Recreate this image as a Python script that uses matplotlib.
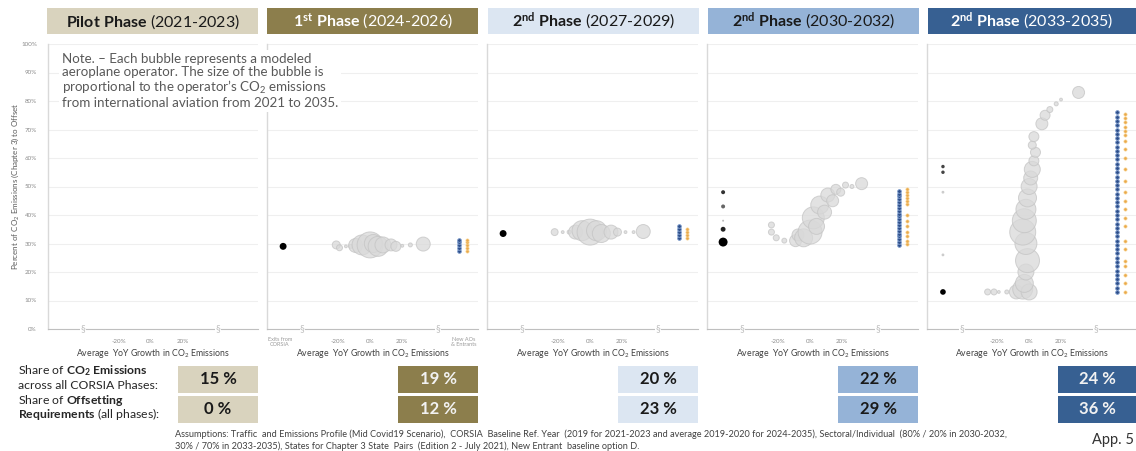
import matplotlib.pyplot as plt
from matplotlib.patches import Rectangle
import numpy as np

plt.rcParams['font.family'] = ['Lato', 'DejaVu Sans']
plt.rcParams['mathtext.fontset'] = 'custom'
plt.rcParams['mathtext.rm'] = 'Lato'
plt.rcParams['mathtext.bf'] = 'Lato:bold'
plt.rcParams['mathtext.it'] = 'Lato:italic'

# ---- data -------------------------------------------------------------
header_labels = [r'$\mathbf{Pilot\ Phase}$ (2021-2023)',
                 r'$\mathbf{1^{st}\ Phase}$ (2024-2026)',
                 r'$\mathbf{2^{nd}\ Phase}$ (2027-2029)',
                 r'$\mathbf{2^{nd}\ Phase}$ (2030-2032)',
                 r'$\mathbf{2^{nd}\ Phase}$ (2033-2035)']
header_colors = ['#d9d3be', '#8c7e4c', '#dce6f2', '#95b3d7', '#376092']
header_text = ['#1a1a1a', 'white', '#1a1a1a', '#1a1a1a', 'white']
box_text = ['#1a1a1a', '#f2f2f2', '#1a1a1a', '#1a1a1a', '#f2f2f2']

share_emissions = [15, 19, 20, 22, 24]
share_offsetting = [0, 12, 23, 29, 36]

y_ticks = [0, 10, 20, 30, 40, 50, 60, 70, 80, 90, 100]
x_ticks = [-20, 0, 20]

# bubbles: average yoy growth (%), percent to offset (%), emissions (rel.)
bub_x = [[],
         [-21, -19, -15, -12, -9, -5, 0, 2, 5, 8, 13, 16, 20, 25, 33],
         [-22, -17, -13, -9, -5, 0, 4, 7, 13, 17, 22, 27, 33],
         [-24, -24, -21, -16, -9, -7.5, -4, 0, 2, 4, 6, 9, 11, 14, 16, 19, 22, 26, 32],
         [-26, -22, -19, -14, -8, -4, 0, -3, -2, -1, -2, -4, -3, -2, -1, 0, 1, 2, 3, 4,
          2, 3, 8, 10, 13, 17, 20, 31]]
bub_y = [[],
         [29.5, 28.5, 29, 29, 29.3, 29.5, 29.5, 30, 29, 29.5, 29.5, 29, 29.2, 29.5, 29.8],
         [34, 34, 34, 34, 34.5, 34, 34.5, 33.5, 34, 34, 34, 34, 34.2],
         [36.5, 34, 32, 31, 31, 33, 32, 34, 39, 36, 43.5, 41, 47, 45, 49, 48, 50.5, 50, 51],
         [13, 13, 13, 13, 13, 14, 13, 16, 20, 24, 30, 34, 38, 42, 46, 50, 53, 56, 59, 62,
          64.5, 67.5, 72, 75, 77, 79, 80.5, 83]]
bub_e = [[],
         [16, 9, 2, 4, 49, 100, 169, 81, 100, 64, 36, 25, 2, 4, 49],
         [12, 2, 4, 49, 100, 169, 100, 81, 49, 16, 2, 2, 49],
         [9, 9, 9, 6, 36, 36, 81, 144, 121, 64, 81, 49, 49, 36, 25, 16, 9, 4, 36],
         [9, 9, 2, 4, 49, 100, 64, 81, 64, 144, 121, 169, 144, 100, 81, 64, 49, 64, 25, 25,
          16, 25, 36, 25, 9, 4, 2, 36]]

# operators exiting CORSIA (left column)
exit_y = [[], [29], [33.5], [48, 43, 38, 35, 30.5], [57, 55, 48, 26, 13]]
exit_e = [[], [12], [12], [4, 4, 1, 6, 20], [3, 3, 2, 2, 8]]
exit_c = [[], ['black'], ['black'], ['#333333', '#666666', '#bbbbbb', '#222222', 'black'],
          ['#444444', '#444444', '#cccccc', '#cccccc', 'black']]

# new AOs & entrants (right columns)
new_blue_y = [[], [27.5, 28.5, 29.5, 30.5, 31.2], [32, 33, 34, 35, 36],
              [29.5, 30.5, 31.5, 32.5, 33.5, 34.5, 35.5, 36.5, 37.5, 38.5, 39.5, 40.5,
               41.5, 42.5, 43.5, 44.5, 45.5, 46.5, 47.5, 48.5],
              [13, 14.5, 16, 17.5, 19, 20.5, 22, 23.5, 25, 26.5, 28, 29.5, 31, 32.5, 34,
               35.5, 37, 38.5, 40, 41.5, 43, 44.5, 46, 47.5, 49, 50.5, 52, 53.5, 55, 56.5,
               58, 59.5, 61, 62.5, 64, 65.5, 67, 68.5, 70, 71.5, 73, 74.5, 76]]
new_orange_y = [[], [27.5, 28.5, 29.5, 30.5, 31.2], [32, 33, 34, 35],
                [30, 31, 32.5, 34, 36, 38, 40, 44, 45, 46, 47, 48, 49],
                [13, 16, 19, 22, 24, 28, 31, 36, 39, 42, 45, 48, 52, 56, 60, 63, 66, 68,
                 69.5, 71, 72.5, 74, 75.5]]

# ---- layout ------------------------------------------------------------
W, H = 1136, 451
fig = plt.figure(figsize=(W / 100, H / 100), dpi=100)

def fx(px):
    return px / W

def fy(py):
    return 1 - py / H

head_left = [47, 267, 488, 708, 928]
head_w = [211, 211, 211, 211, 208]
ax_left = [48, 267, 487, 707, 927]
ax_w = [210, 211, 211, 211, 209]
ax_top, ax_bot = 44, 329
box_left = [178, 398, 618, 838, 1058]
box_w = [80, 80, 80, 80, 78]

s_scale = 2.07

for i in range(5):
    # header
    fig.add_artist(Rectangle((fx(head_left[i]), fy(34)), fx(head_w[i]), 26 / H,
                             transform=fig.transFigure, facecolor=header_colors[i],
                             edgecolor='none'))
    fig.text(fx(head_left[i] + head_w[i] / 2), fy(21.5), header_labels[i],
             ha='center', va='center', fontsize=11.5, color=header_text[i])

    ax = fig.add_axes([fx(ax_left[i]), fy(ax_bot), fx(ax_w[i]), (ax_bot - ax_top) / H])
    ax.set_xlim(-64, 67)
    ax.set_ylim(0, 100)
    for sp in ['top', 'right']:
        ax.spines[sp].set_visible(False)
    ax.spines['left'].set_color('#d9d9d9')
    ax.spines['bottom'].set_color('#bfbfbf')
    ax.spines['left'].set_linewidth(1.0)
    ax.spines['bottom'].set_linewidth(0.8)
    ax.set_yticks(y_ticks)
    ax.grid(axis='y', color='#efefef', linewidth=0.8)
    ax.set_axisbelow(True)
    ax.set_xticks(x_ticks)
    ax.set_xticklabels(['%d%%' % t for t in x_ticks])
    ax.tick_params(axis='x', length=0, pad=7, labelsize=4.5, labelcolor='#8c8c8c')
    if i == 0:
        ax.set_yticklabels(['%d%%' % t for t in y_ticks])
        ax.tick_params(axis='y', length=0, pad=8, labelsize=4.5, labelcolor='#8c8c8c')
    else:
        ax.tick_params(axis='y', length=0, labelleft=False)
    ax.text(0.5, -0.085, r'Average  YoY Growth in CO$_2$ Emissions', transform=ax.transAxes,
            ha='center', va='center', fontsize=6.3, color='#404040')
    for bx in [-42, 42]:
        ax.text(bx, 0, '§', ha='center', va='center', fontsize=7, color='#bfbfbf',
                bbox=dict(facecolor='white', edgecolor='none', pad=0.3), clip_on=False)

    if bub_x[i]:
        ax.scatter(bub_x[i], bub_y[i], s=np.array(bub_e[i]) * s_scale, facecolor='#d9d9d9',
                   edgecolor='#c4c4c4', linewidth=0.7, alpha=0.75, zorder=3)
    if exit_y[i]:
        ax.scatter([-54] * len(exit_y[i]), exit_y[i], s=np.array(exit_e[i]) * s_scale,
                   c=exit_c[i], edgecolor='none', zorder=4)
    if new_blue_y[i]:
        ax.scatter([55] * len(new_blue_y[i]), new_blue_y[i], s=3.5 * s_scale,
                   facecolor='#2f4f8a', edgecolor='#7b9bcc', linewidth=0.6, zorder=4)
        ax.scatter([60] * len(new_orange_y[i]), new_orange_y[i], s=2.5 * s_scale,
                   facecolor='#eaa84a', edgecolor='#f6d08a', linewidth=0.5, zorder=4)

    if i == 1:
        ax.text(-56, -4.5, 'Exits from\nCORSIA', ha='center', va='center', fontsize=4,
                color='#9a9a9a', linespacing=1.1)
        ax.text(58, -4.5, 'New AOs\n& Entrants', ha='center', va='center', fontsize=4,
                color='#9a9a9a', linespacing=1.1)

    # bottom share boxes
    for row, (top, vals) in enumerate([(366, share_emissions), (396, share_offsetting)]):
        fig.add_artist(Rectangle((fx(box_left[i]), fy(top + 27)), fx(box_w[i]), 27 / H,
                                 transform=fig.transFigure, facecolor=header_colors[i],
                                 edgecolor='none'))
        fig.text(fx(box_left[i] + box_w[i] / 2), fy(top + 13.5), '%d %%' % vals[i],
                 ha='center', va='center', fontsize=12, fontweight='bold',
                 color=box_text[i])

# y axis title
fig.text(fx(15), fy(186), r'Percent of CO$_2$ Emissions (Chapter 3) to Offset',
         rotation=90, ha='center', va='center', fontsize=5.8, color='#595959')

# note
fig.text(fx(62), fy(53),
         'Note. – Each bubble represents a modeled\n'
         'aeroplane operator. The size of the bubble is\n'
         'proportional to the operator’s CO$_2$ emissions\n'
         'from international aviation from 2021 to 2035.',
         ha='left', va='top', fontsize=9.6, color='#595959', linespacing=1.1,
         bbox=dict(facecolor='white', edgecolor='none', pad=2))

# row labels
row_lines = [(374, r'Share of $\mathbf{CO_2\ Emissions}$'),
             (389, 'across all CORSIA Phases:'),
             (404, r'Share of $\mathbf{Offsetting}$'),
             (418.5, r'$\mathbf{Requirements}$ (all phases):')]
for ypx, txt in row_lines:
    fig.text(fx(18), fy(ypx), txt, ha='left', va='baseline', fontsize=8.8, color='#262626')

# footnote
fig.text(fx(175), fy(434),
         'Assumptions: Traffic  and Emissions Profile (Mid Covid19 Scenario),  CORSIA  Baseline Ref. Year  '
         '(2019 for 2021-2023 and average 2019-2020 for 2024-2035), Sectoral/Individual  (80% / 20% in 2030-2032,',
         ha='left', va='center', fontsize=6.6, color='#404040')
fig.text(fx(175), fy(446),
         '30% / 70% in 2033-2035), States for Chapter 3 State  Pairs  (Edition 2 - July 2021), New Entrant  baseline option D.',
         ha='left', va='center', fontsize=6.6, color='#404040')
fig.text(fx(1134), fy(440), 'App. 5', ha='right', va='center', fontsize=10.5, color='#333333')

fig.savefig('out.png', dpi=100)
